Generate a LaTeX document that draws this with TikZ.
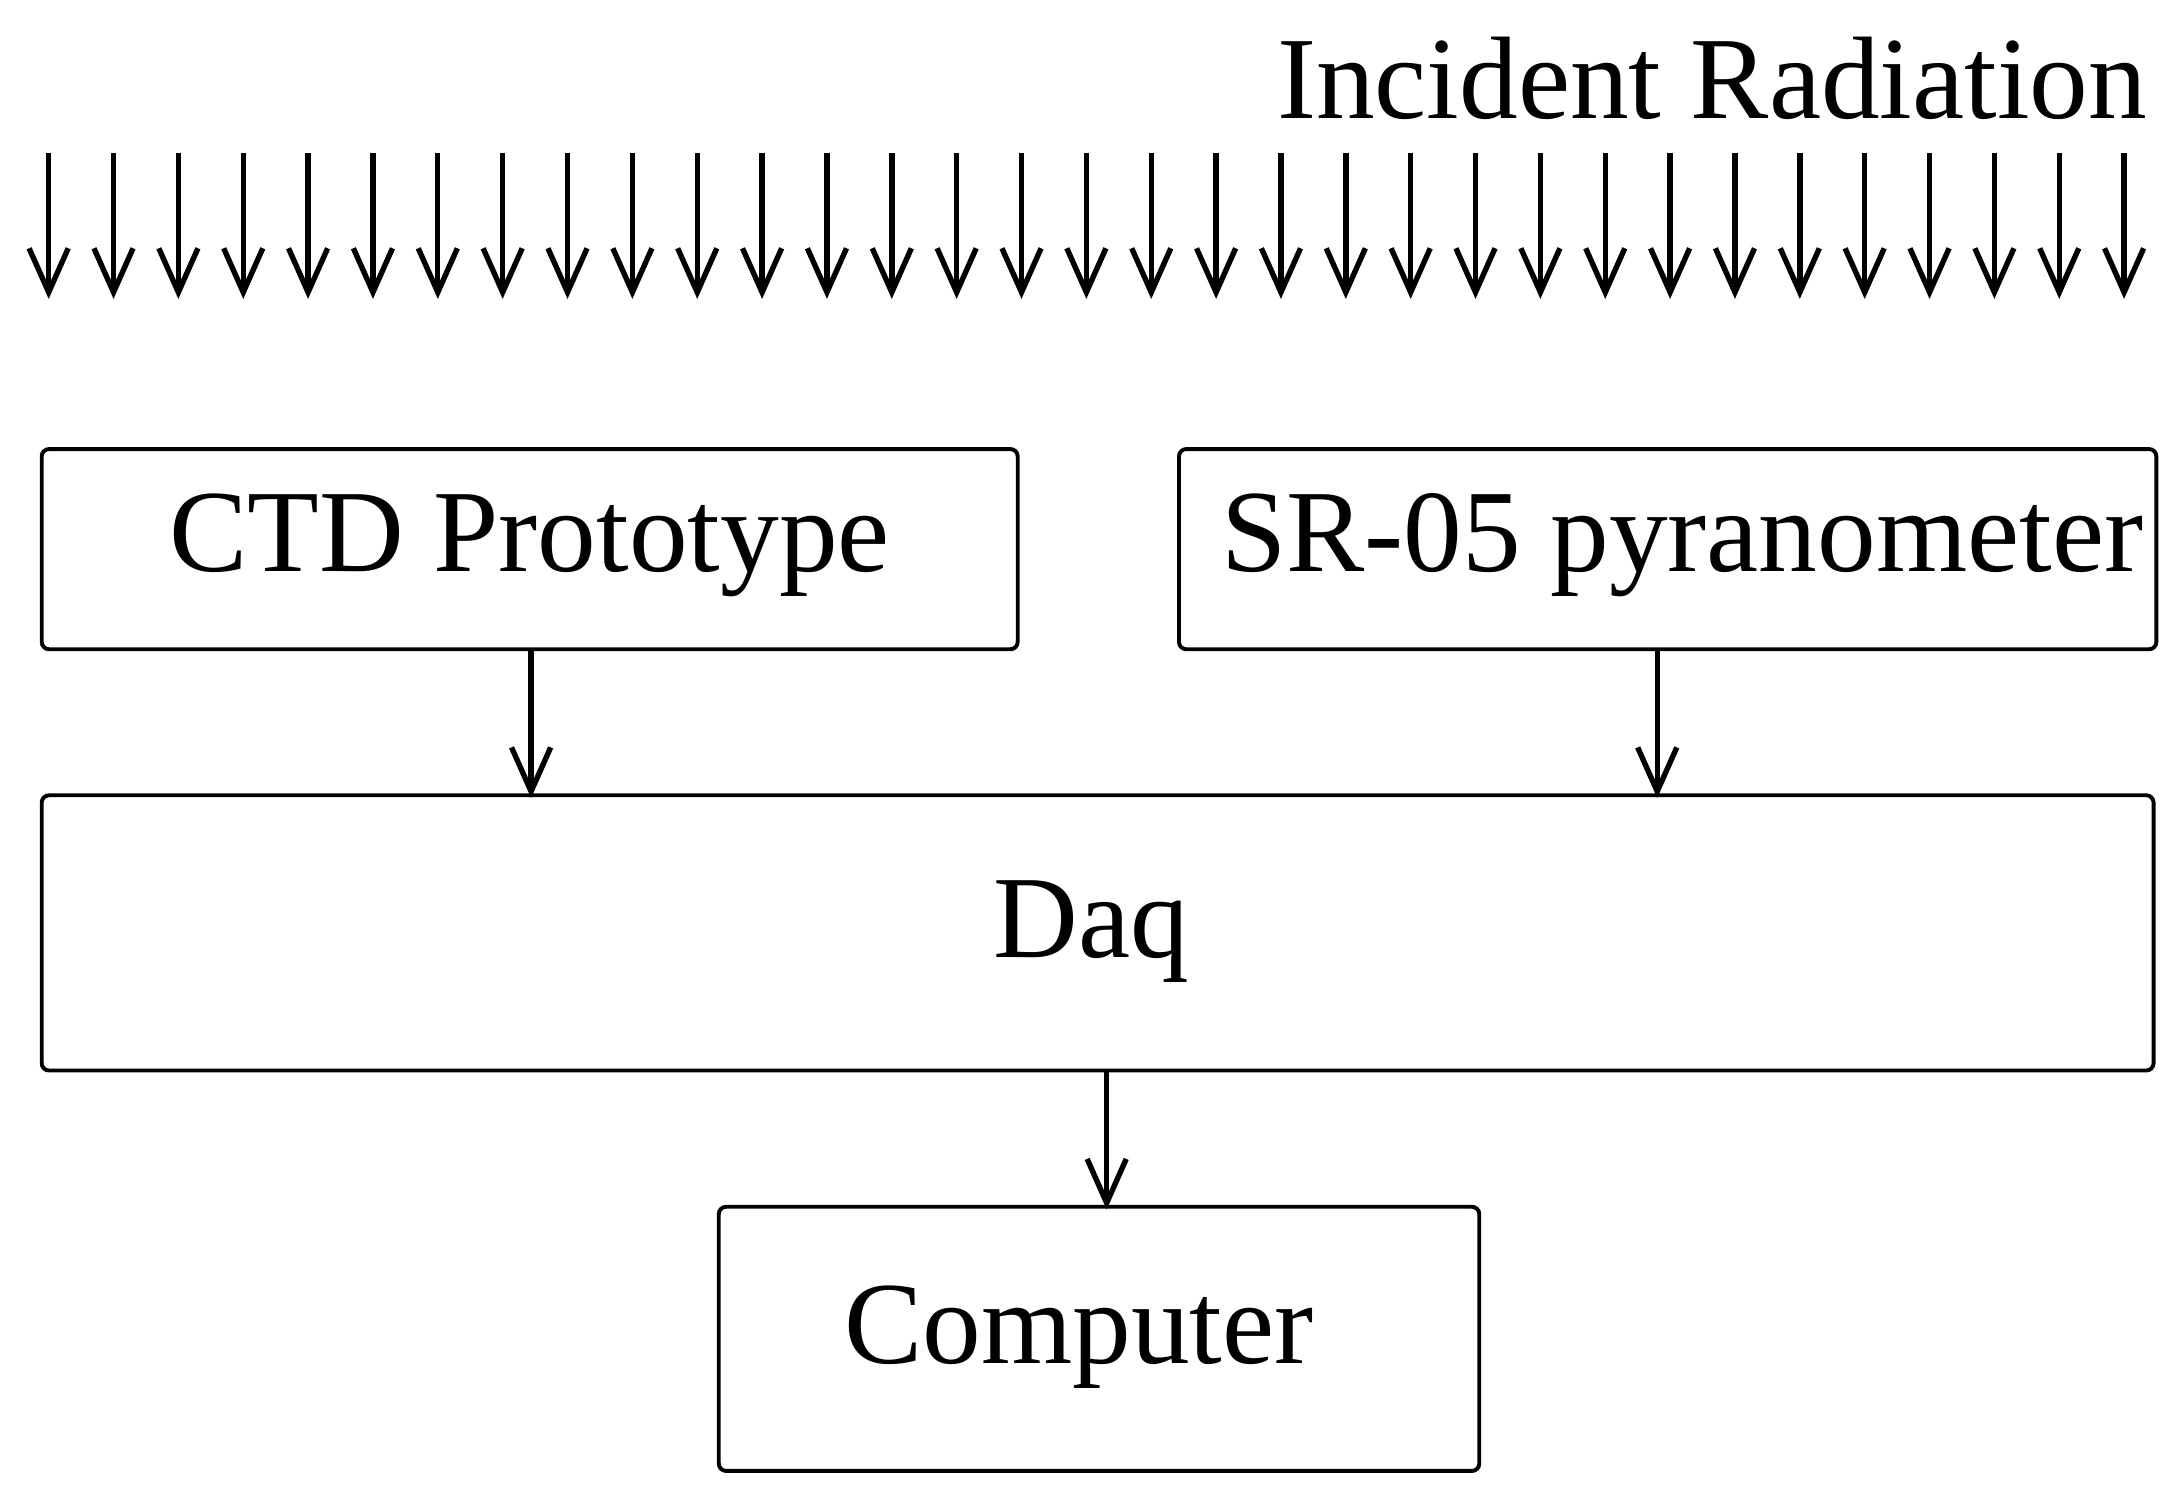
\documentclass[tikz,border=0pt]{standalone}
\usepackage{fontspec}
\setmainfont{Liberation Serif}
\usetikzlibrary{arrows.meta}
\begin{document}
\begin{tikzpicture}[x=0.01cm,y=-0.01cm,
  box/.style={draw,line width=0.8pt,rounded corners=1.5pt},
  lbl/.style={font=\fontsize{24}{28}\selectfont},
  arr/.style={line width=1.1pt,-{Straight Barb[length=9pt,width=8pt]}}]
\useasboundingbox (0,0) rectangle (1568,1076);
\node[anchor=base east,lbl,inner sep=0] (title) at (1545,85) {Incident Radiation};
\foreach \i in {0,...,32}{
  \coordinate (s\i) at ({35+\i*46.65},110);
  \coordinate (e\i) at ({35+\i*46.65},215);
  \draw[arr] (s\i) -- (e\i);
}
\draw[box] (30,323) rectangle (732,467);
\node[lbl] (ctd) at (381,392) {CTD Prototype};
\draw[box] (848,323) rectangle (1551,467);
\node[lbl] (sr) at (1210,392) {SR-05 pyranometer};
\draw[box] (30,572) rectangle (1549,770);
\node[lbl] (daq) at (785,670) {Daq};
\draw[box] (517,868) rectangle (1064,1058);
\node[lbl] (comp) at (776,962) {Computer};
\coordinate (a1) at (382,467); \coordinate (b1) at (382,574);
\coordinate (a2) at (1192,467); \coordinate (b2) at (1192,574);
\coordinate (a3) at (796,770); \coordinate (b3) at (796,870);
\draw[arr] (a1) -- (b1);
\draw[arr] (a2) -- (b2);
\draw[arr] (a3) -- (b3);
\end{tikzpicture}
\end{document}
